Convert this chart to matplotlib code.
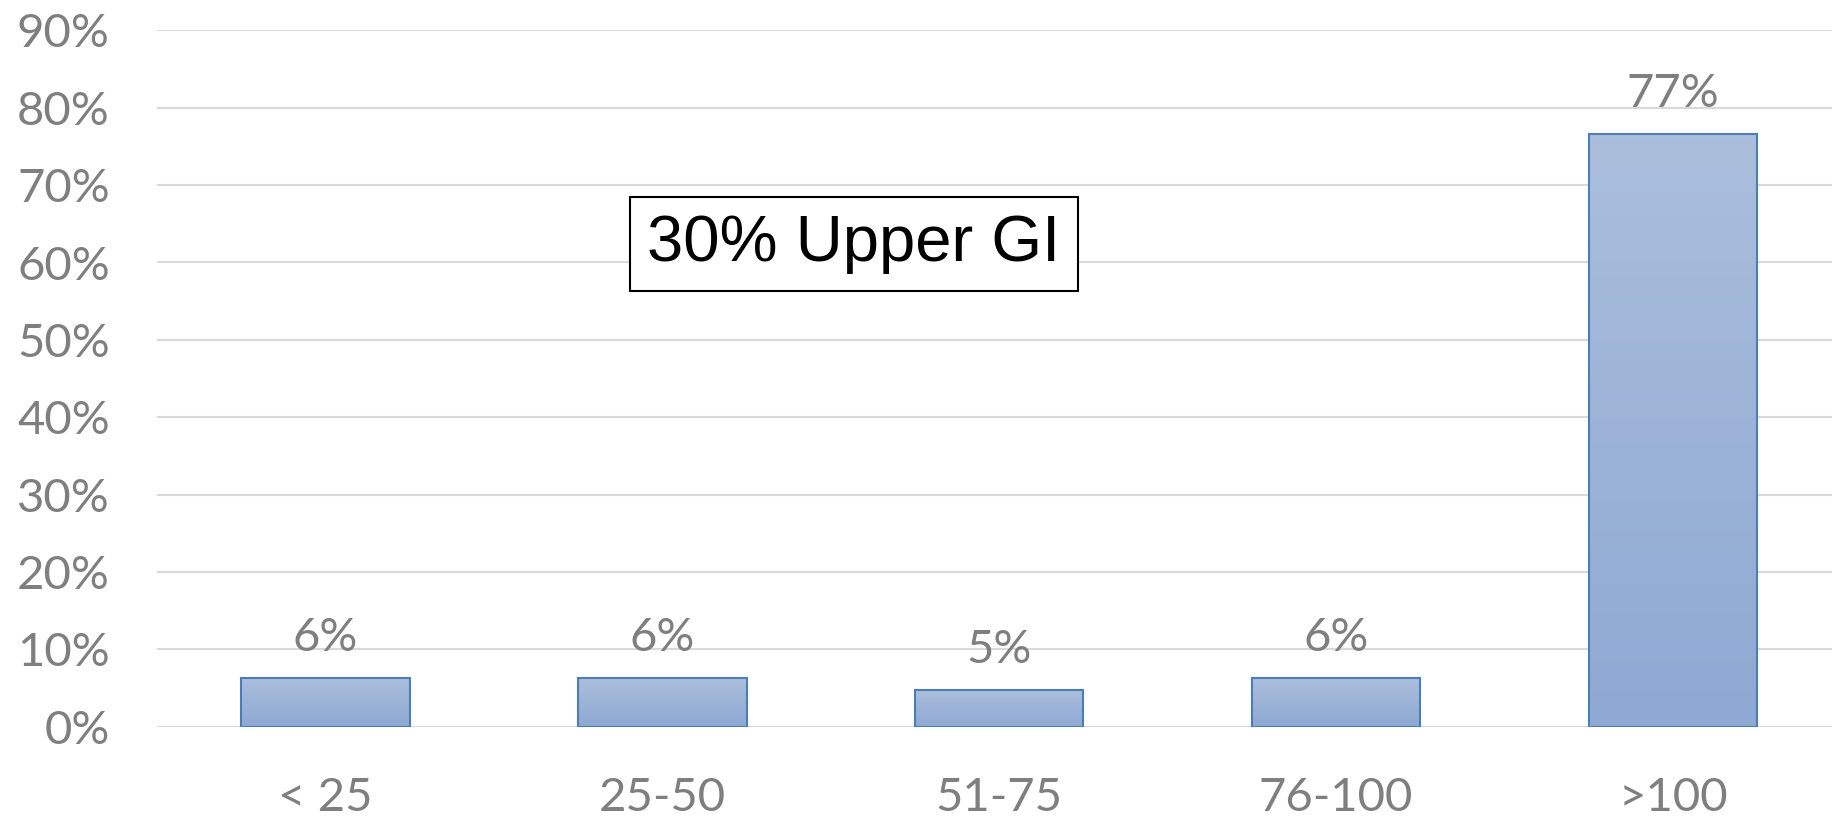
import matplotlib.pyplot as plt
import numpy as np
from matplotlib.colors import LinearSegmentedColormap

#==============================================================================
# Data
#==============================================================================

categories = ['< 25', '25-50', '51-75', '76-100', '>100']
shares = [6.3, 6.3, 4.7, 6.3, 76.6]
share_labels = ['6%', '6%', '5%', '6%', '77%']
yticks = [0, 10, 20, 30, 40, 50, 60, 70, 80, 90]
note = '30% Upper GI'

#==============================================================================
# Plot
#==============================================================================

gray = '#7f7f7f'
grad = LinearSegmentedColormap.from_list('bar', ['#8ea9d3', '#abbedc'])

fig = plt.figure(figsize=(18.32, 8.17), dpi=100)
ax = fig.add_axes([157 / 1832, 1 - 726.7 / 817, 1 - 157 / 1832,
                   (726.7 - 30.4) / 817])

width = 0.5
x = np.arange(len(categories))
bars = ax.bar(x, shares, width, facecolor='none', edgecolor='#4a7ebb',
              linewidth=1.5, zorder=3)
for bar in bars:
    x0, y0 = bar.get_x(), bar.get_y()
    ax.imshow(np.linspace(0, 1, 100).reshape(-1, 1), cmap=grad,
              aspect='auto', origin='lower', zorder=2,
              extent=[x0, x0 + bar.get_width(), y0, y0 + bar.get_height()])

for xi, val, lab in zip(x, shares, share_labels):
    ax.annotate(lab, (xi, val), xytext=(0, 19.5), textcoords='offset points',
                ha='center', va='baseline', fontsize=34, color=gray,
                family='Lato')

ax.set_xlim(-0.5, 4.472)
ax.set_ylim(0, 90)
ax.set_yticks(yticks)
ax.set_yticklabels(['{}%'.format(t) for t in yticks])
ax.set_xticks(x)
ax.set_xticklabels(categories)
ax.tick_params(axis='y', length=0, pad=34, labelsize=34, labelcolor=gray)
ax.tick_params(axis='x', length=0, pad=36, labelsize=34, labelcolor=gray)
for lab in ax.get_xticklabels() + ax.get_yticklabels():
    lab.set_family('Lato')
ax.grid(axis='y', color='#d9d9d9', linewidth=1.5, zorder=0)
for side in ['top', 'right', 'left', 'bottom']:
    ax.spines[side].set_visible(False)

fig.text(854 / 1832, 1 - 244 / 817, note, ha='center', va='center',
         fontsize=47, family='Liberation Sans', color='black',
         bbox=dict(boxstyle='square,pad=0.26', facecolor='white',
                   edgecolor='black', linewidth=1.5))

fig.savefig('out.png', dpi=100)
